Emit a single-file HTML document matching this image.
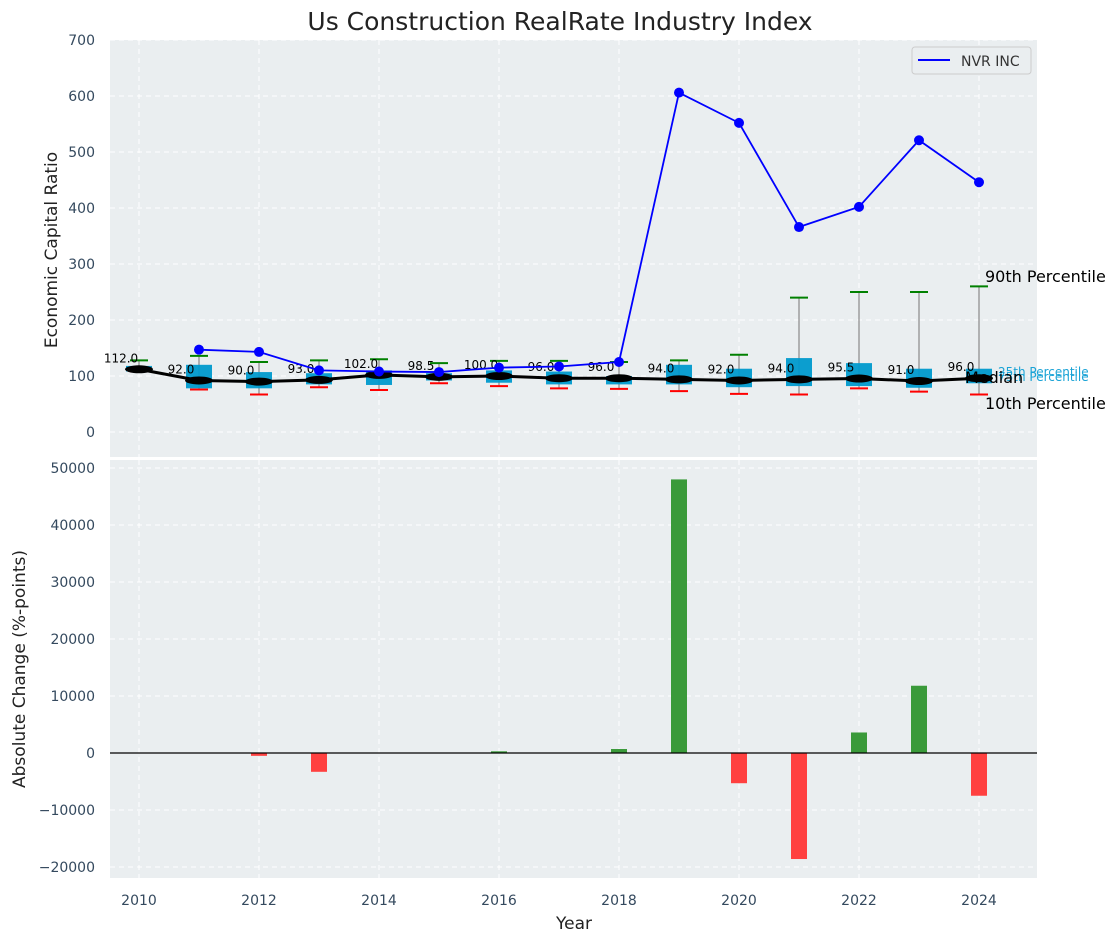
<!DOCTYPE html>
<html><head><meta charset="utf-8"><style>
body{margin:0;background:#fff;font-family:"Liberation Sans","DejaVu Sans",sans-serif}
svg text{font-family:"DejaVu Sans","Liberation Sans",sans-serif}
</style></head><body>
<svg id="c" width="1120" height="942" xmlns="http://www.w3.org/2000/svg"></svg>
<script>
const years=[2010,2011,2012,2013,2014,2015,2016,2017,2018,2019,2020,2021,2022,2023,2024];
const medians=[112,92,90,93,102,98.5,100,96,96,94,92,94,95.5,91,96];
const q1=[108,78,78,85,84,92,88,85,85,85,80,82,82,79,87];
const q3=[118,120,107,105,110,105,110,108,100,120,113,132,123,113,113];
const p10=[108,76,67,80,75,87,82,78,77,73,68,67,78,72,67];
const p90=[128,136,125,128,130,123,127,127,125,128,138,240,250,250,260];
const nvrYears=[2011,2012,2013,2014,2015,2016,2017,2018,2019,2020,2021,2022,2023,2024];
const nvr=[147,143,110,108,107,115,117,125,606,552,366,402,521,446];
const changes=[0,0,-500,-3300,-50,-50,300,50,700,48000,-5300,-18600,3600,11800,-7500];
const topTicks=[0,100,200,300,400,500,600,700];
const botTicks=[-20000,-10000,0,10000,20000,30000,40000,50000];
const xTicks=[2010,2012,2014,2016,2018,2020,2022,2024];

const NS="http://www.w3.org/2000/svg",svg=document.getElementById('c');
function el(t,a,p){const e=document.createElementNS(NS,t);for(const k in a)e.setAttribute(k,a[k]);(p||svg).appendChild(e);return e;}
const X=y=>139+(y-2010)*60;
const Y1=v=>432-v*0.56;
const Y2=v=>753-v*0.0057;
const L=110,R=1037;

let e=el('text',{x:560,y:30,'text-anchor':'middle','font-size':25,fill:'#222'});e.textContent='Us Construction RealRate Industry Index';



e=el('rect',{x:L,y:40,width:R-L,height:417,fill:'#eaeef0'});


e=el('rect',{x:L,y:460,width:R-L,height:418,fill:'#eaeef0'});



xTicks.forEach(t=>{
 [[40,457],[460,878]].forEach(r=>{e=el('line',{x1:X(t),x2:X(t),y1:r[0],y2:r[1],stroke:'#fff','stroke-dasharray':'5,4','stroke-width':1});
 
 });
 e=el('text',{x:X(t),y:905,'text-anchor':'middle','font-size':14,fill:'#34495e'});e.textContent=t;
 
 
});
topTicks.forEach(t=>{
 e=el('line',{x1:L,x2:R,y1:Y1(t),y2:Y1(t),stroke:'#fff','stroke-dasharray':'5,4'});
 
 
 e=el('text',{x:95,y:Y1(t)+5,'text-anchor':'end','font-size':14,fill:'#34495e'});e.textContent=t;
 
 
});
botTicks.forEach(t=>{
 e=el('line',{x1:L,x2:R,y1:Y2(t),y2:Y2(t),stroke:'#fff','stroke-dasharray':'5,4'});
 
 
 e=el('text',{x:95,y:Y2(t)+5,'text-anchor':'end','font-size':14,fill:'#34495e'});e.textContent=(t<0?'\u2212'+(-t):t);
 
 
});

years.forEach((y,i)=>{
 const x=X(y);
 e=el('line',{x1:x,x2:x,y1:Y1(p90[i]),y2:Y1(p10[i]),stroke:'#888','stroke-width':1.2});
 
 
 e=el('rect',{x:x-13,y:Y1(q3[i]),width:26,height:Y1(q1[i])-Y1(q3[i]),fill:'#0099cc',opacity:0.95});
 
 
 e=el('line',{x1:x-9,x2:x+9,y1:Y1(p90[i]),y2:Y1(p90[i]),stroke:'green','stroke-width':2});
 
 
 e=el('line',{x1:x-9,x2:x+9,y1:Y1(p10[i]),y2:Y1(p10[i]),stroke:'red','stroke-width':2});
 
 
});
e=el('polyline',{points:years.map((y,i)=>X(y)+','+Y1(medians[i])).join(' '),fill:'none',stroke:'#000','stroke-width':3});


years.forEach((y,i)=>{
 e=el('ellipse',{cx:X(y),cy:Y1(medians[i]),rx:14,ry:4,fill:'#000'});
 
 
 e=el('text',{x:X(y)-18,y:Y1(medians[i])-7,'text-anchor':'middle','font-size':12,fill:'#000'});e.textContent=medians[i].toFixed(1);
 
 
});
e=el('polyline',{points:nvrYears.map((y,i)=>X(y)+','+Y1(nvr[i])).join(' '),fill:'none',stroke:'blue','stroke-width':1.8});


nvrYears.forEach((y,i)=>{e=el('circle',{cx:X(y),cy:Y1(nvr[i]),r:5,fill:'blue'});
 
 });

[['25th Percentile',998,376,12,'#1aa3d6'],['75th Percentile',998,381,12,'#1aa3d6'],['90th Percentile',985,282,16,'#000'],['10th Percentile',985,409,16,'#000'],['Median',965,383,16,'#000']].forEach(a=>{
 e=el('text',{x:a[1],y:a[2],'font-size':a[3],fill:a[4]});e.textContent=a[0];
 
 
});

e=el('rect',{x:912,y:47,width:119,height:27,rx:3,fill:'#eaeef0',stroke:'#ccc'});


e=el('line',{x1:918,x2:950,y1:60,y2:60,stroke:'blue','stroke-width':2});


e=el('text',{x:961,y:66,'font-size':14,fill:'#333'});e.textContent='NVR INC';



years.forEach((y,i)=>{
 const v=changes[i];if(!v)return;
 const y0=Y2(0),yv=Y2(v);
 e=el('rect',{x:X(y)-8,y:Math.min(y0,yv),width:16,height:Math.abs(yv-y0),fill:v>=0?'#3a9a3a':'#ff4040'});
 
 
});
e=el('line',{x1:L,x2:R,y1:Y2(0),y2:Y2(0),stroke:'#000','stroke-width':1.2});



e=el('text',{x:574,y:929,'text-anchor':'middle','font-size':17,fill:'#222'});e.textContent='Year';


e=el('text',{x:57,y:250,'text-anchor':'middle','font-size':17,fill:'#222',transform:'rotate(-90 57 250)'});e.textContent='Economic Capital Ratio';


e=el('text',{x:25,y:669,'text-anchor':'middle','font-size':17,fill:'#222',transform:'rotate(-90 25 669)'});e.textContent='Absolute Change (%-points)';


</script>
</body></html>
